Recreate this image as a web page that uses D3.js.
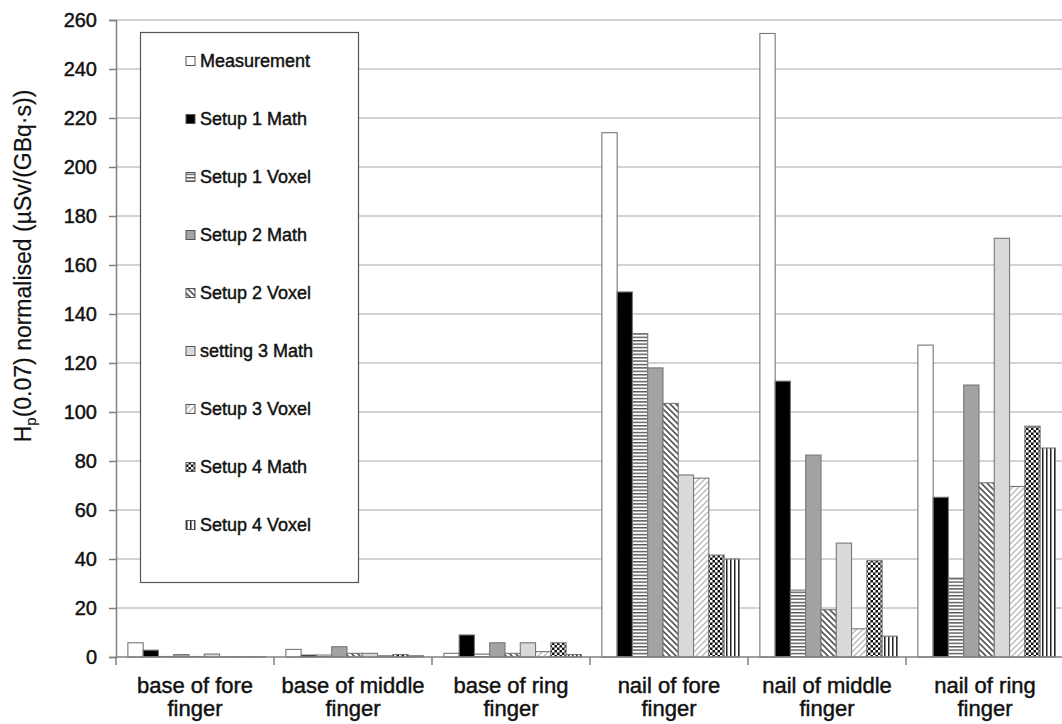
<!DOCTYPE html>
<html>
<head>
<meta charset="utf-8">
<script src="https://cdn.jsdelivr.net/npm/d3@7"></script>
<style>
  body { margin: 0; background: #fff; }
  svg text { font-family: "Liberation Sans", Arial, sans-serif; fill: #111; stroke: #111; stroke-width: 0.45px; }
</style>
</head>
<body>
<svg id="chart" width="1062" height="724"></svg>
<script>
// categories along the x axis (two lines each)
const categories = [
  ["base of fore", "finger"],
  ["base of middle", "finger"],
  ["base of ring", "finger"],
  ["nail of fore", "finger"],
  ["nail of middle", "finger"],
  ["nail of ring", "finger"]
];

const seriesNames = [
  "Measurement", "Setup 1 Math", "Setup 1 Voxel", "Setup 2 Math", "Setup 2 Voxel",
  "setting 3 Math", "Setup 3 Voxel", "Setup 4 Math", "Setup 4 Voxel"
];

// one row per category, one value per series
const values = [
  [5.8, 2.8, 0.2, 1.0, 0.2, 1.2, 0.1, 0.1, 0.1],
  [3.1, 0.8, 0.8, 4.2, 1.5, 1.5, 0.5, 1.0, 0.5],
  [1.5, 9.0, 1.2, 5.8, 1.5, 5.8, 2.2, 5.8, 1.0],
  [214, 149, 132, 118, 103.5, 74.3, 73, 41.6, 40],
  [254.5, 112.6, 27.3, 82.4, 19.3, 46.5, 11.5, 39.3, 8.5],
  [127.3, 65.2, 32.2, 111, 71.1, 170.9, 69.6, 94.2, 85.3]
];

const yTicks = d3.range(0, 261, 20);

const svg = d3.select("#chart");

// fills for each series (solid colours or hatch patterns)
const defs = svg.append("defs");

function pattern(id, size, draw) {
  const p = defs.append("pattern")
    .attr("id", id)
    .attr("patternUnits", "userSpaceOnUse")
    .attr("width", size)
    .attr("height", size);
  p.append("rect").attr("width", size).attr("height", size).attr("fill", "#fff");
  draw(p);
}

pattern("hstripe", 3.4, p => {
  p.append("rect").attr("y", 0).attr("width", 3.4).attr("height", 1.4).attr("fill", "#555");
});
pattern("vstripe", 4, p => {
  p.append("rect").attr("x", 0).attr("width", 1.5).attr("height", 4).attr("fill", "#222");
});
pattern("diagDown", 6, p => {
  // "\" direction
  p.append("path").attr("d", "M-1,-1 L7,7 M-1,5 L1,7 M5,-1 L7,1")
    .attr("stroke", "#555").attr("stroke-width", 1.6);
});
pattern("diagUpLight", 6, p => {
  // "/" direction, pale
  p.append("path").attr("d", "M-1,7 L7,-1 M-1,1 L1,-1 M5,7 L7,5")
    .attr("stroke", "#bbb").attr("stroke-width", 1.4);
});
pattern("checker", 5, p => {
  p.append("rect").attr("width", 5).attr("height", 5).attr("fill", "#111");
  p.append("rect").attr("x", 0).attr("y", 0).attr("width", 2.5).attr("height", 2.5).attr("fill", "#fff");
  p.append("rect").attr("x", 2.5).attr("y", 2.5).attr("width", 2.5).attr("height", 2.5).attr("fill", "#fff");
});

const fills = [
  "#ffffff", "#000000", "url(#hstripe)", "#a3a3a3", "url(#diagDown)",
  "#d9d9d9", "url(#diagUpLight)", "url(#checker)", "url(#vstripe)"
];

// scales
const x0 = d3.scaleBand()
  .domain(d3.range(categories.length))
  .range([116, 1064]);

const x1 = d3.scaleBand()
  .domain(d3.range(seriesNames.length))
  .range([0, x0.bandwidth()])
  .paddingOuter(0.67)
  .align(0.58);

const y = d3.scaleLinear().domain([0, 260]).range([657, 20]);

// gridlines
svg.append("g")
  .selectAll("line")
  .data(yTicks.filter(d => d > 0))
  .join("line")
  .attr("x1", 116).attr("x2", 1062)
  .attr("y1", d => y(d)).attr("y2", d => y(d))
  .attr("stroke", "#c4c4c4")
  .attr("stroke-width", 1.6);

// bars
const groups = svg.append("g")
  .selectAll("g")
  .data(values)
  .join("g")
  .attr("transform", (d, i) => `translate(${x0(i)},0)`);

groups.selectAll("rect")
  .data(d => d)
  .join("rect")
  .attr("x", (d, j) => x1(j))
  .attr("width", x1.bandwidth())
  .attr("y", d => y(d))
  .attr("height", d => y(0) - y(d))
  .attr("fill", (d, j) => fills[j])
  .attr("stroke", "#777")
  .attr("stroke-width", 1.1);

// y axis
const yAxis = svg.append("g")
  .attr("transform", "translate(116,0)")
  .call(d3.axisLeft(y).tickValues(yTicks).tickSize(7).tickPadding(12));
yAxis.select(".domain").attr("stroke", "#808080").attr("stroke-width", 1.5);
yAxis.selectAll(".tick line").attr("stroke", "#808080").attr("stroke-width", 1.5);
yAxis.selectAll(".tick text")
  .style("font-size", "20px")
  .attr("fill", "#111");

// x axis line and group ticks
svg.append("line")
  .attr("x1", 116).attr("x2", 1062)
  .attr("y1", y(0)).attr("y2", y(0))
  .attr("stroke", "#808080").attr("stroke-width", 1.5);

svg.append("g")
  .selectAll("line")
  .data(d3.range(categories.length + 1))
  .join("line")
  .attr("x1", i => 116 + i * x0.step())
  .attr("x2", i => 116 + i * x0.step())
  .attr("y1", y(0)).attr("y2", y(0) + 8)
  .attr("stroke", "#808080").attr("stroke-width", 1.5);

// category labels
const xLabels = svg.append("g")
  .selectAll("text")
  .data(categories)
  .join("text")
  .attr("text-anchor", "middle")
  .style("font-size", "22px");

xLabels.each(function(d, i) {
  const cx = x0(i) + x0.bandwidth() / 2;
  d3.select(this).selectAll("tspan")
    .data(d)
    .join("tspan")
    .attr("x", cx)
    .attr("y", (t, k) => 693 + k * 23)
    .text(t => t);
});

// y axis title
const yTitle = svg.append("text")
  .attr("transform", "translate(31,266) rotate(-90)")
  .attr("text-anchor", "middle")
  .style("font-size", "23px")
  .style("stroke-width", "0.2px");
yTitle.append("tspan").text("H");
yTitle.append("tspan").attr("dy", 5).style("font-size", "15px").text("p");
yTitle.append("tspan").attr("dy", -5).text("(0.07) normalised  (µSv/(GBq·s))");

// legend
svg.append("rect")
  .attr("x", 140.5).attr("y", 32.5)
  .attr("width", 218).attr("height", 550)
  .attr("fill", "#fff")
  .attr("stroke", "#555")
  .attr("stroke-width", 1.2);

const legend = svg.append("g")
  .selectAll("g")
  .data(seriesNames)
  .join("g")
  .attr("transform", (d, i) => `translate(186,${61 + i * 58})`);

legend.append("rect")
  .attr("x", 0).attr("y", -4.5)
  .attr("width", 9).attr("height", 9)
  .attr("fill", (d, i) => fills[i])
  .attr("stroke", "#555")
  .attr("stroke-width", 1);

legend.append("text")
  .attr("x", 14)
  .attr("dy", "0.36em")
  .style("font-size", "18px")
  .text(d => d);
</script>
</body>
</html>
